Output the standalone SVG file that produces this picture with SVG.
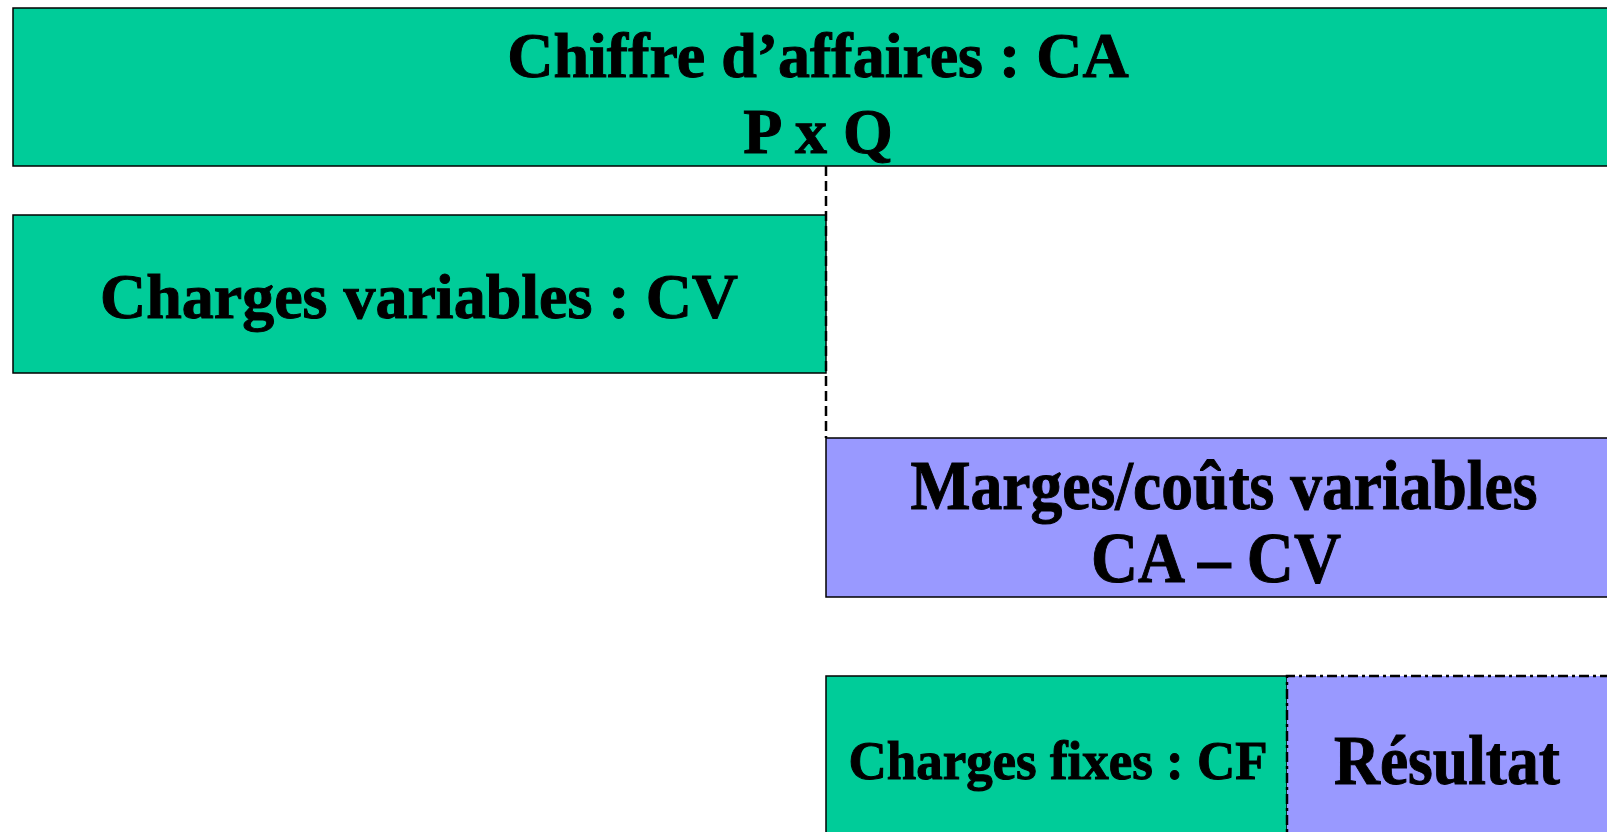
<svg xmlns="http://www.w3.org/2000/svg" width="1607" height="832" viewBox="0 0 1607 832">
<style>
.g{fill:#00CC99;stroke:#000;stroke-width:1.5}
.p{fill:#9999FF;stroke:#000;stroke-width:1.5}
.t{font-family:"Liberation Serif","Times New Roman",serif;font-weight:bold;fill:#000;stroke:#000;stroke-width:1;text-anchor:middle}
.dash{fill:none;stroke:#000;stroke-width:2.5;stroke-dasharray:10 5}
.dd{fill:none;stroke:#000;stroke-width:2.5;stroke-dasharray:10 4 3 4}
</style>
<rect width="1607" height="832" fill="#fff"/>
<g id="ca">
<rect class="g" x="13" y="8" width="1620" height="158"/>
<text class="t" x="818" y="77" font-size="64">Chiffre d’affaires : CA</text>
<text class="t" x="818" y="153" font-size="64">P x Q</text>
</g>
<g id="cv">
<rect class="g" x="13" y="215" width="813" height="158"/>
<text class="t" x="419" y="318" font-size="64">Charges variables : CV</text>
</g>
<g id="marges">
<rect class="p" x="826" y="438" width="800" height="159"/>
<text class="t" x="1224" y="509" font-size="70" textLength="627" lengthAdjust="spacingAndGlyphs">Marges/coûts variables</text>
<text class="t" x="1216" y="582" font-size="72" textLength="250" lengthAdjust="spacingAndGlyphs">CA – CV</text>
</g>
<g id="cf">
<rect class="g" x="826" y="676" width="461" height="170"/>
<text class="t" x="1058" y="779" font-size="54" textLength="419" lengthAdjust="spacingAndGlyphs">Charges fixes : CF</text>
</g>
<g id="resultat">
<rect x="1287" y="676" width="340" height="170" fill="#9999FF"/>
<path class="dd" d="M1287 846 V676 H1627"/>
<text class="t" x="1447" y="784" font-size="70" textLength="226" lengthAdjust="spacingAndGlyphs">Résultat</text>
</g>
<g id="connectors">
<line class="dash" x1="826" y1="166" x2="826" y2="438"/>
</g>
</svg>
